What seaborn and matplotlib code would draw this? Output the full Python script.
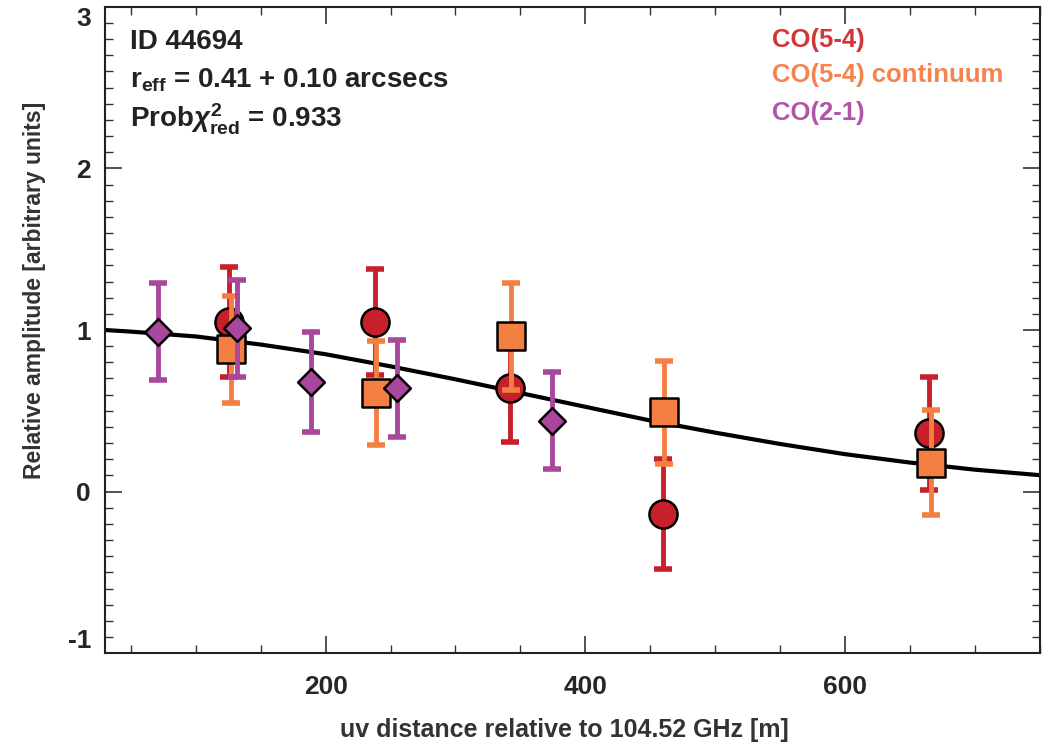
import numpy as np
import pandas as pd
import matplotlib
matplotlib.use("Agg")
import matplotlib.pyplot as plt
import seaborn as sns
from matplotlib.ticker import MultipleLocator

# data
co54_x = [125.4, 238.0, 342.3, 459.8, 664.9]
co54_y = [1.05, 1.05, 0.64, -0.14, 0.36]
co54_err = [0.34, 0.33, 0.33, 0.34, 0.35]

cont_x = [126.9, 238.5, 343.0, 460.8, 666.7]
cont_y = [0.88, 0.61, 0.96, 0.49, 0.18]
cont_err = [0.33, 0.32, 0.33, 0.32, 0.325]

co21_x = [71.0, 132.0, 188.5, 255.0, 374.6]
co21_y = [0.99, 1.01, 0.68, 0.64, 0.44]
co21_err = [0.30, 0.30, 0.31, 0.30, 0.30]

model_x = [30, 50, 100, 150, 200, 250, 300, 350, 400, 450, 500, 550, 600, 650, 700, 750]
model_y = [1.00, 0.99, 0.96, 0.91, 0.85, 0.775, 0.695, 0.61, 0.525, 0.44, 0.365, 0.295, 0.232, 0.18, 0.136, 0.102]

x_ticks = [200, 400, 600]
y_ticks = [-1, 0, 1, 2, 3]

RED = "#c8202a"
ORANGE = "#f47f43"
PURPLE = "#a8479c"

sns.set_theme(style="ticks")
plt.rcParams["font.family"] = ["Liberation Sans", "DejaVu Sans"]
plt.rcParams["axes.unicode_minus"] = False
plt.rcParams["mathtext.fontset"] = "custom"
plt.rcParams["mathtext.rm"] = "Liberation Sans:bold"
plt.rcParams["mathtext.bf"] = "Liberation Sans:bold"
plt.rcParams["mathtext.it"] = "Liberation Sans:italic:bold"

fig = plt.figure(figsize=(10.5, 7.5), dpi=100)
ax = fig.add_axes([0.1, 0.129, 0.89, 0.862])

# model curve underneath
model = pd.DataFrame({"x": model_x, "y": model_y})
sns.lineplot(data=model, x="x", y="y", color="black", lw=3, ax=ax, zorder=2)

series = [
    (co54_x, co54_y, co54_err, RED, "o", 410, 3),
    (cont_x, cont_y, cont_err, ORANGE, "s", 430, 5),
    (co21_x, co21_y, co21_err, PURPLE, "D", 185, 7),
]
for xs, ys, es, col, mk, size, z in series:
    ax.errorbar(xs, ys, yerr=es, fmt="none", ecolor=col, elinewidth=3.5,
                capsize=6.5, capthick=4, zorder=z)
    sns.scatterplot(x=xs, y=ys, marker=mk, s=size, color=col,
                    edgecolor="black", linewidth=1.8,
                    ax=ax, zorder=z + 1, legend=False)

ax.set_xlim(30, 750)
ax.set_ylim(-1, 3)
ax.set_xticks(x_ticks)
ax.set_yticks(y_ticks)
ax.xaxis.set_minor_locator(MultipleLocator(50))
ax.yaxis.set_minor_locator(MultipleLocator(0.1))
ax.tick_params(which="both", direction="in", top=True, right=True, color="#333333")
ax.tick_params(which="major", length=12, width=1.2, labelsize=19, pad=10)
ax.tick_params(which="minor", length=6, width=1.0)
ax.tick_params(axis="x", pad=16)
for lab in ax.get_xticklabels() + ax.get_yticklabels():
    lab.set_fontweight("bold")
ylabs = ax.get_yticklabels()
ylabs[0].set_va("bottom")
ylabs[-1].set_va("top")
for sp in ax.spines.values():
    sp.set_linewidth(1.5)
    sp.set_color("#222222")

ax.set_xlabel("uv distance relative to 104.52 GHz [m]", fontsize=18,
              fontweight="bold", color="#333333", va="center")
ax.set_ylabel("Relative amplitude [arbitrary units]", fontsize=16.5,
              fontweight="bold", color="#333333", va="center")
ax.xaxis.set_label_coords(0.492, -0.119)
ax.yaxis.set_label_coords(-0.075, 0.562)

# annotation block
txt_kw = dict(transform=ax.transAxes, fontsize=20, fontweight="bold",
              color="#222222", va="center", ha="left")
ax.text(0.027, 0.946, "ID 44694", **txt_kw)
ax.text(0.027, 0.887, r"r$_{\rm eff}$ = 0.41 + 0.10 arcsecs", **txt_kw)
ax.text(0.027, 0.826, r"Prob$\chi^{2}_{\rm red}$ = 0.933", **txt_kw)

# coloured legend labels
leg_kw = dict(transform=ax.transAxes, fontsize=18.5, fontweight="bold",
              va="center", ha="left")
ax.text(0.714, 0.949, "CO(5-4)", color="#d0363a", **leg_kw)
ax.text(0.714, 0.895, "CO(5-4) continuum", color="#f4834e", **leg_kw)
ax.text(0.714, 0.836, "CO(2-1)", color="#b055aa", **leg_kw)

fig.savefig("out.png", dpi=100)
